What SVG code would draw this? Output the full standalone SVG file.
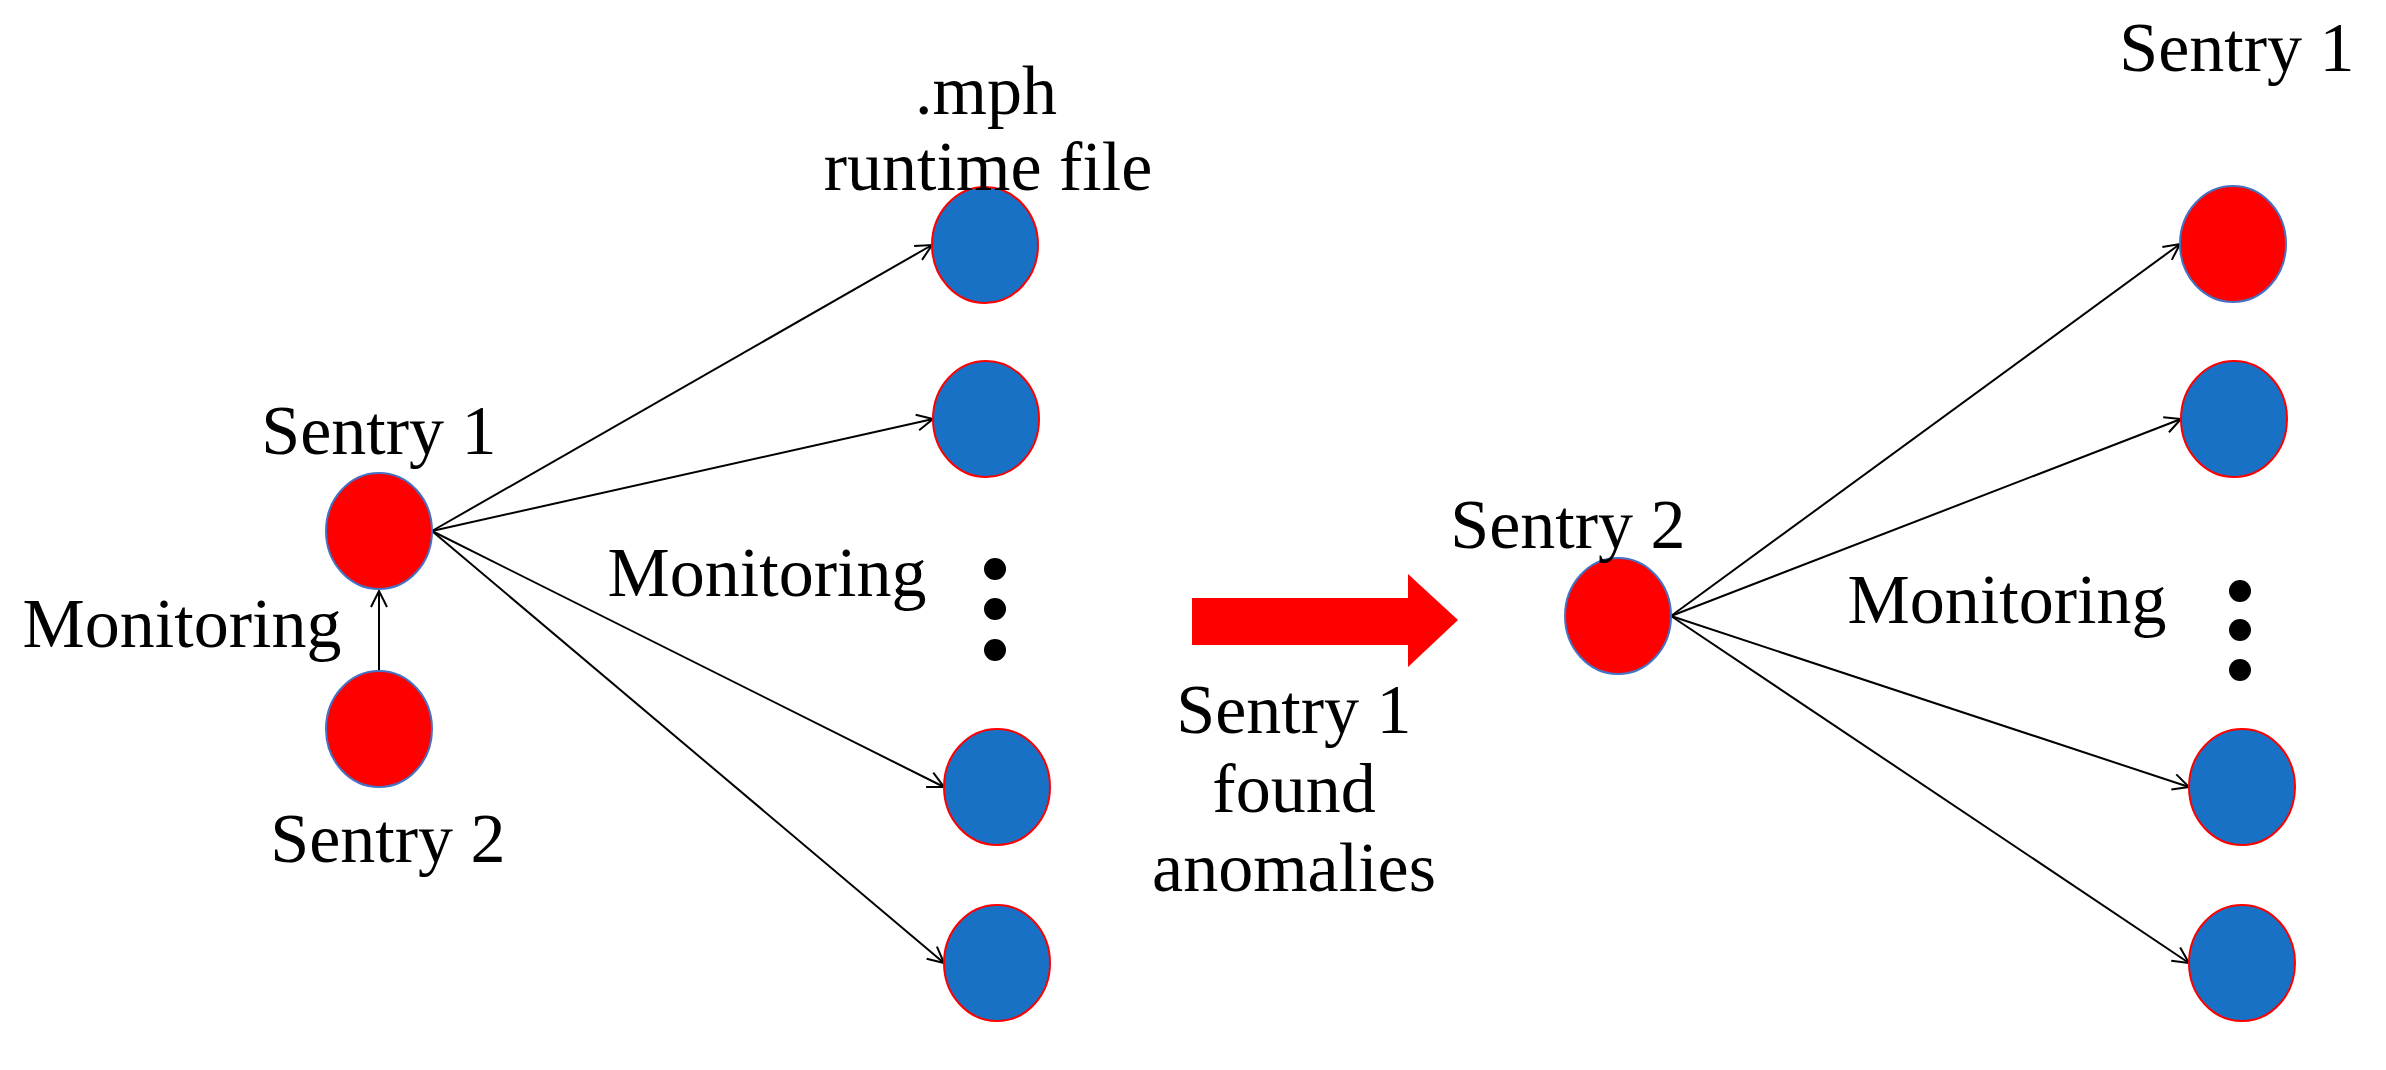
<svg xmlns="http://www.w3.org/2000/svg" width="2386" height="1070" viewBox="0 0 2386 1070">
<style>
text{font-family:"Liberation Serif",serif;font-size:70px;fill:#000;text-anchor:middle}
.r{fill:#ff0000;stroke:#4472c4;stroke-width:2}
.b{fill:#1971c6;stroke:#ff0000;stroke-width:2}
.c{stroke:#000;stroke-width:2;fill:none;marker-end:url(#a)}
</style>
<defs><marker id="a" markerWidth="20" markerHeight="20" refX="18" refY="10" orient="auto" markerUnits="userSpaceOnUse"><path d="M2,2 L18,10 L2,18" fill="none" stroke="#000" stroke-width="2"/></marker></defs>
<rect width="2386" height="1070" fill="#fff"/>
<g id="connectors">
<line class="c" x1="379" y1="671" x2="379" y2="591"/>
<line class="c" x1="432" y1="531" x2="932" y2="245"/>
<line class="c" x1="432" y1="531" x2="933" y2="419"/>
<line class="c" x1="432" y1="531" x2="944" y2="787"/>
<line class="c" x1="432" y1="531" x2="944" y2="963"/>
<line class="c" x1="1671" y1="616" x2="2180" y2="244"/>
<line class="c" x1="1671" y1="616" x2="2181" y2="419"/>
<line class="c" x1="1671" y1="616" x2="2189" y2="787"/>
<line class="c" x1="1671" y1="616" x2="2189" y2="963"/>
</g>
<g id="l-sentry1"><ellipse class="r" cx="379" cy="531" rx="53" ry="58"/><text x="379" y="454">Sentry 1</text></g>
<g id="l-sentry2"><ellipse class="r" cx="379" cy="729" rx="53" ry="58"/><text x="388" y="862">Sentry 2</text></g>
<text x="182" y="647">Monitoring</text>
<g id="l-b1"><ellipse class="b" cx="985" cy="245" rx="53" ry="58"/><text x="986" y="114">.mph</text><text x="988" y="190">runtime file</text></g>
<g id="l-b2"><ellipse class="b" cx="986" cy="419" rx="53" ry="58"/></g>
<g id="l-b3"><ellipse class="b" cx="997" cy="787" rx="53" ry="58"/></g>
<g id="l-b4"><ellipse class="b" cx="997" cy="963" rx="53" ry="58"/></g>
<text x="767" y="596">Monitoring</text>
<g fill="#000"><circle cx="995" cy="569" r="11"/><circle cx="995" cy="609" r="11"/><circle cx="995" cy="650" r="11"/></g>
<g id="transition"><polygon points="1192,598 1408,598 1408,574 1458,620 1408,667 1408,645 1192,645" fill="#ff0000"/>
<text x="1294" y="733">Sentry 1</text><text x="1294" y="812">found</text><text x="1294" y="891">anomalies</text></g>
<g id="r-sentry2"><ellipse class="r" cx="1618" cy="616" rx="53" ry="58"/><text x="1568" y="548">Sentry 2</text></g>
<g id="r-sentry1"><ellipse class="r" cx="2233" cy="244" rx="53" ry="58"/><text x="2237" y="71">Sentry 1</text></g>
<g id="r-b2"><ellipse class="b" cx="2234" cy="419" rx="53" ry="58"/></g>
<g id="r-b3"><ellipse class="b" cx="2242" cy="787" rx="53" ry="58"/></g>
<g id="r-b4"><ellipse class="b" cx="2242" cy="963" rx="53" ry="58"/></g>
<text x="2007" y="623">Monitoring</text>
<g fill="#000"><circle cx="2240" cy="591" r="11"/><circle cx="2240" cy="630" r="11"/><circle cx="2240" cy="670" r="11"/></g>
</svg>
